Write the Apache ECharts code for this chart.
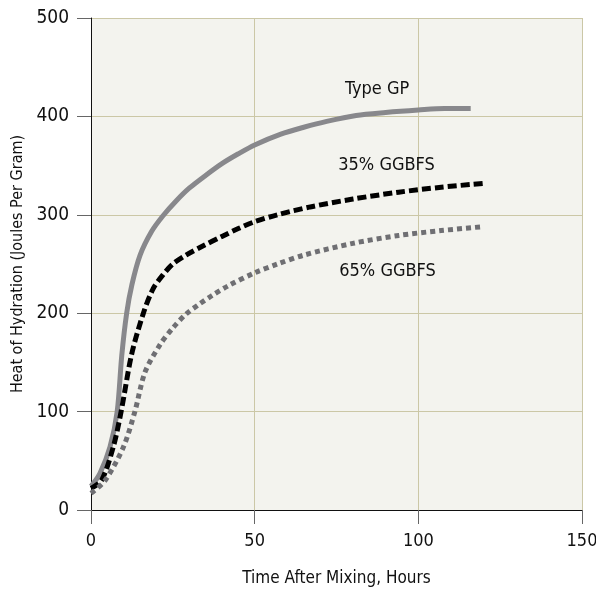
<!DOCTYPE html>
<html>
<head>
<meta charset="utf-8">
<script src="https://cdn.jsdelivr.net/npm/echarts@6/dist/echarts.min.js"></script>
<style>
  html, body { margin: 0; padding: 0; background: #fff; }
  #chart { width: 596px; height: 594px; }
</style>
</head>
<body>
<div id="chart"></div>
<script>
// hours after mixing, heat of hydration (J/g)
const typeGP = [[0,24],[2.7,37],[5.8,64],[8,100],[9.4,157],[10.9,200],[12.5,229],[15,259],[18.5,283],[22,299],[26,314],[30,327],[35,340],[40,352],[45,362],[50,371],[58,382],[65,389],[72,395],[81,401],[90,404],[100,406.5],[108,408],[116,408]];
const ggbfs35 = [[0,22],[3.2,30],[6.8,64],[9.2,100],[12.4,158],[16,200],[19,225],[22,239],[25,250],[29,259],[34,268],[40,278],[45,286],[50,293],[57,300],[67,308],[80,316],[94,323],[107,328],[120,332]];
const ggbfs65 = [[0,17],[4.3,30],[9.9,64],[13.4,100],[16.5,140],[21.1,168],[25,185],[29,199],[33,209],[37,218],[42,228],[50,241],[57,250],[65,259],[80,271],[94,279],[107,284],[120,288]];

const seriesNames = ['Type GP', '35% GGBFS', '65% GGBFS'];
const labelSpots = [[87.4, 428], [90.3, 350], [90.6, 243]];

const font = "'DejaVu Sans Condensed', 'Liberation Sans Narrow', sans-serif";
const gridColor = '#cbc7a6';

const makeSeries = (name, data, color, type, spot) => ({
  name: name,
  type: 'line',
  data: data,
  smooth: 0.3,
  showSymbol: false,
  lineStyle: { color: color, width: 5, type: type, cap: 'butt' },
  markPoint: {
    symbol: 'rect',
    symbolSize: 0,
    data: [{ coord: spot }],
    label: {
      show: true,
      position: 'inside',
      formatter: name,
      color: '#111',
      fontFamily: font,
      fontSize: 18
    }
  }
});

const getOption = () => ({
  animation: false,
  grid: {
    left: 91, right: 14, top: 18, bottom: 84,
    outerBoundsMode: 'none',
    show: true, backgroundColor: '#f3f3ee', borderWidth: 0
  },
  xAxis: {
    type: 'value', min: 0, max: 150, interval: 50,
    name: 'Time After Mixing, Hours',
    nameLocation: 'middle', nameGap: 60,
    nameTextStyle: { fontFamily: font, fontSize: 17, color: '#111' },
    axisLine: { show: true, lineStyle: { color: '#111', width: 1 } },
    axisTick: { show: true, length: 14, lineStyle: { color: '#666' } },
    axisLabel: { margin: 22, fontFamily: font, fontSize: 18, color: '#111' },
    splitLine: { show: true, lineStyle: { color: gridColor, width: 1 } }
  },
  yAxis: {
    type: 'value', min: 0, max: 500, interval: 100,
    name: 'Heat of Hydration (Joules Per Gram)',
    nameLocation: 'middle', nameGap: 56, nameRotate: 90,
    nameTextStyle: { fontFamily: font, fontSize: 16, color: '#111' },
    axisLine: { show: true, lineStyle: { color: '#111', width: 1 } },
    axisTick: { show: true, length: 14, lineStyle: { color: '#666' } },
    axisLabel: { margin: 22, fontFamily: font, fontSize: 19, color: '#111' },
    splitLine: { show: true, lineStyle: { color: gridColor, width: 1 } }
  },
  series: [
    makeSeries(seriesNames[0], typeGP, '#88888c', 'solid', labelSpots[0]),
    makeSeries(seriesNames[1], ggbfs35, '#000000', [9, 4], labelSpots[1]),
    makeSeries(seriesNames[2], ggbfs65, '#6f6f73', [5, 4], labelSpots[2])
  ]
});

const chart = echarts.init(document.querySelector('#chart'));
chart.setOption(getOption());
</script>
</body>
</html>
